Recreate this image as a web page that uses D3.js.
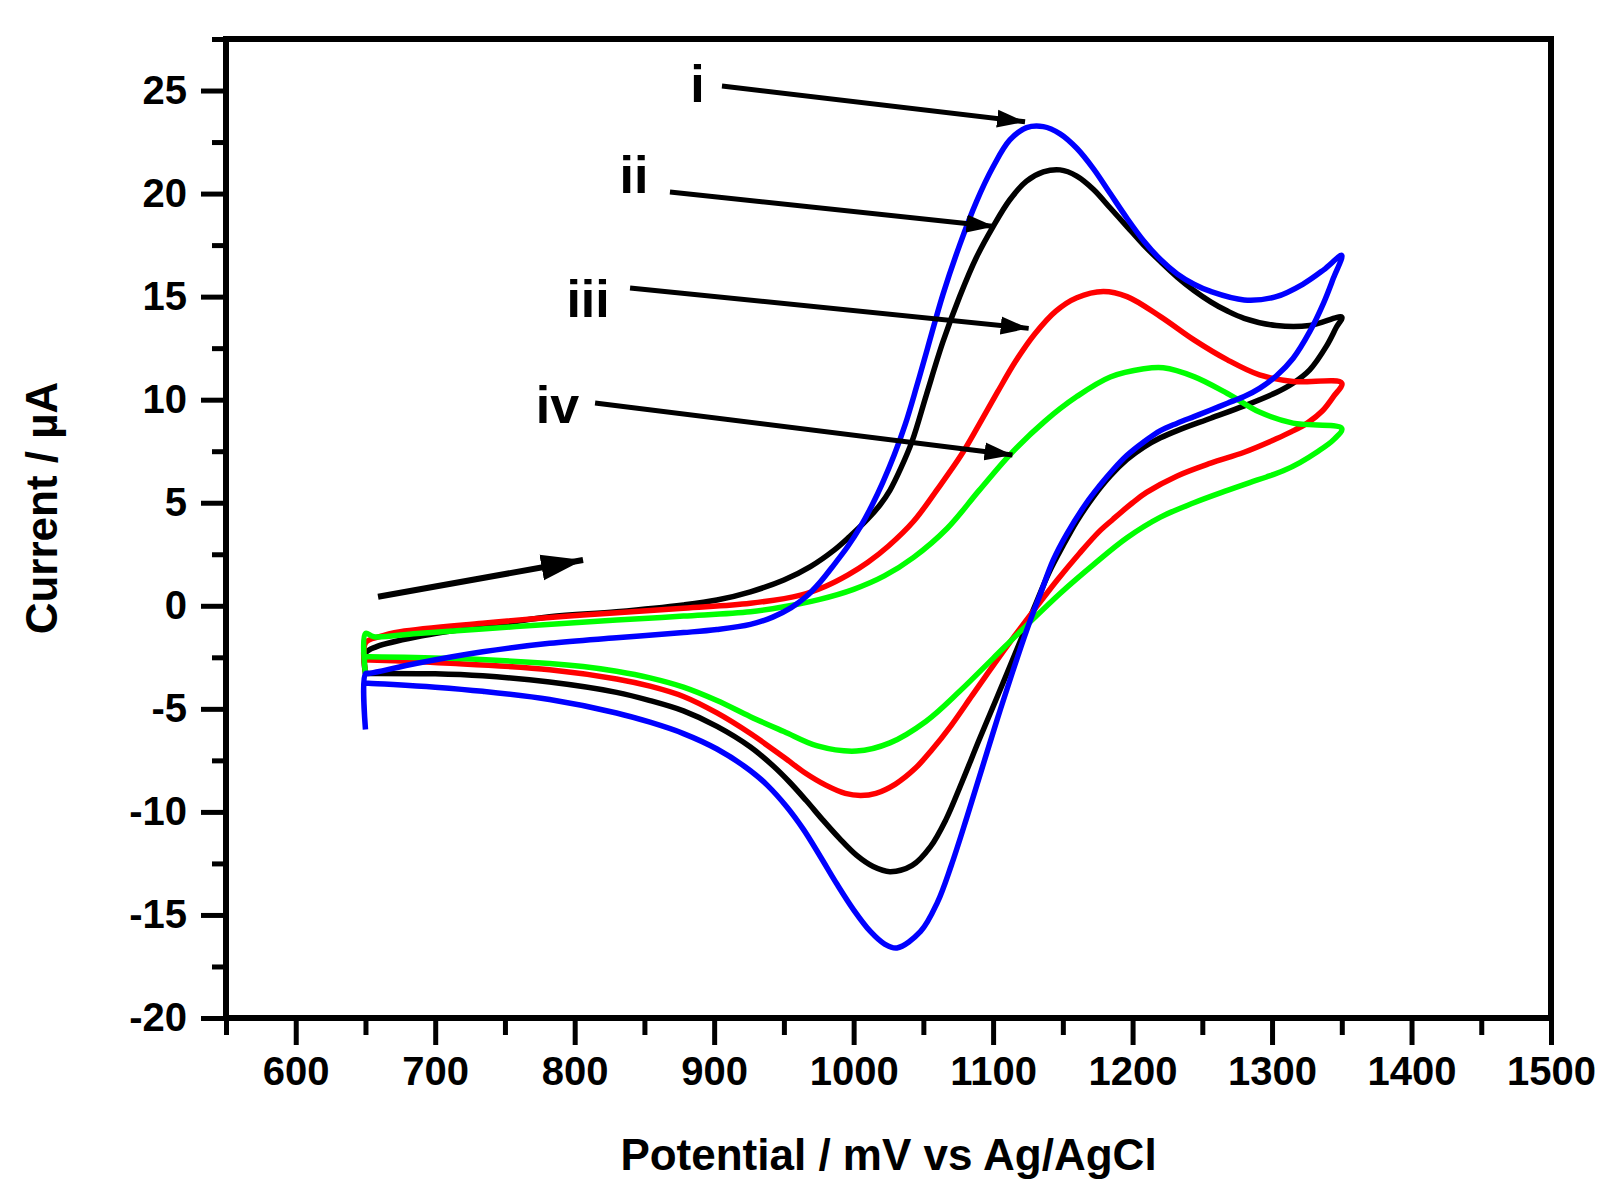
<!DOCTYPE html>
<html>
<head>
<meta charset="utf-8">
<title>Cyclic voltammograms</title>
<script src="https://cdn.jsdelivr.net/npm/d3@7"></script>
<style>
  body { margin: 0; background: #fff; }
  svg text { font-family: "Liberation Sans", Arial, sans-serif; font-weight: bold; fill: #000; }
</style>
</head>
<body>
<div id="chart"></div>
<script>
// potential (mV vs Ag/AgCl), current (uA) -- forward scan then reverse scan
var scanI = [[650,-6.0],[650,-3.3],[653,-3.28],[687,-2.79],[734,-2.23],[782,-1.82],[830,-1.55],[878,-1.3],
  [902,-1.15],[926,-0.9],[942,-0.55],[955,-0.1],[966,0.45],[976,1.15],[986,2.0],[996,2.9],[1005,3.85],
  [1013,4.85],[1021,6.0],[1029,7.3],[1037,8.8],[1045,10.6],[1053,12.5],[1064,15.1],[1076,17.5],
  [1088,19.6],[1100,21.3],[1112,22.6],[1124,23.2],[1136,23.25],[1148,22.9],[1160,22.2],[1172,21.2],
  [1184,20.0],[1196,18.8],[1208,17.7],[1220,16.8],[1232,16.1],[1244,15.6],[1256,15.25],[1280,14.84],
  [1303,15.0],[1322,15.6],[1337,16.3],[1350,17.0],
  [1344,15.9],[1337,14.7],[1327,13.3],[1315,12.0],[1303,11.15],[1291,10.55],[1280,10.15],[1268,9.83],
  [1256,9.5],[1244,9.18],[1232,8.86],[1220,8.5],[1208,7.95],[1196,7.3],[1186,6.6],[1176,5.8],[1167,5.0],
  [1153,3.5],[1143,2.2],[1134,0.6],[1124,-1.2],[1114,-3.2],[1103,-5.5],[1092,-7.9],[1081,-10.3],
  [1070,-12.6],[1060,-14.4],[1048,-15.8],[1031,-16.6],[1022,-16.4],[1012,-15.8],[1000,-14.75],
  [988,-13.5],[976,-12.15],[964,-10.85],[952,-9.75],[938,-8.7],[926,-8.0],[902,-6.95],[878,-6.2],
  [854,-5.65],[830,-5.2],[782,-4.55],[734,-4.15],[700,-3.95],[670,-3.82],[652,-3.76],[650,-3.76]];

var scanII = [[650,-3.3],[650,-2.3],[658,-1.98],[687,-1.5],[734,-1.01],[782,-0.53],[830,-0.29],[878,0.04],
  [902,0.28],[926,0.68],[950,1.25],[969,1.9],[986,2.7],[997,3.35],[1010,4.2],[1019,4.9],[1026,5.6],
  [1034,6.7],[1042,8.0],[1052,10.2],[1064,12.8],[1076,15.0],[1088,16.9],[1100,18.4],[1112,19.7],
  [1124,20.6],[1136,21.05],[1148,21.15],[1160,20.85],[1172,20.2],[1184,19.3],[1196,18.4],[1208,17.5],
  [1220,16.7],[1232,15.95],[1244,15.3],[1256,14.75],[1268,14.3],[1280,13.95],[1303,13.6],[1327,13.6],
  [1350,14.0],
  [1346,13.5],[1339,12.6],[1327,11.45],[1315,10.8],[1303,10.35],[1280,9.7],[1256,9.1],[1232,8.5],
  [1220,8.15],[1208,7.7],[1196,7.1],[1184,6.3],[1172,5.3],[1160,4.1],[1150,2.9],[1140,1.6],[1130,0.0],
  [1119,-1.8],[1102,-4.57],[1090,-6.5],[1078,-8.5],[1066,-10.4],[1055,-11.7],[1042,-12.6],[1026,-12.9],
  [1014,-12.65],[1002,-12.1],[990,-11.3],[978,-10.4],[966,-9.45],[954,-8.55],[942,-7.75],[926,-6.85],
  [902,-5.85],[878,-5.1],[854,-4.6],[830,-4.2],[782,-3.7],[734,-3.4],[700,-3.3],[653,-3.28],[650,-3.28]];

var scanIII = [[650,-3.2],[650,-1.8],[660,-1.5],[675,-1.26],[734,-0.85],[806,-0.45],[878,-0.12],[926,0.12],
  [962,0.52],[980,0.95],[996,1.5],[1010,2.1],[1025,2.9],[1043,4.1],[1060,5.65],[1077,7.3],[1090,8.8],
  [1103,10.35],[1116,11.85],[1130,13.2],[1145,14.3],[1160,14.95],[1179,15.25],[1196,15.0],[1220,14.03],
  [1244,12.9],[1268,11.93],[1291,11.2],[1315,10.88],[1350,10.8],
  [1344,10.15],[1336,9.45],[1326,8.9],[1314,8.45],[1303,8.1],[1280,7.45],[1256,6.92],[1232,6.3],[1210,5.5],
  [1200,5.0],[1186,4.2],[1176,3.6],[1162,2.55],[1146,1.25],[1130,-0.15],[1115,-1.5],[1100,-2.9],
  [1085,-4.35],[1070,-5.8],[1056,-7.0],[1044,-7.9],[1030,-8.65],[1016,-9.1],[1005,-9.2],[994,-9.1],
  [980,-8.7],[965,-8.1],[950,-7.35],[926,-6.2],[902,-5.2],[878,-4.4],[854,-3.9],[830,-3.55],[782,-3.1],
  [711,-2.79],[653,-2.63],[650,-2.63]];

var scanIV = [[650,-3.3],[650,-1.34],[656,-1.5],[687,-1.34],[758,-1.01],[830,-0.69],[878,-0.5],[926,-0.29],
  [950,-0.05],[975,0.3],[1000,0.8],[1022,1.45],[1043,2.35],[1067,3.75],[1090,5.6],[1113,7.4],[1137,8.95],
  [1160,10.15],[1184,11.1],[1208,11.5],[1222,11.55],[1244,11.12],[1268,10.3],[1291,9.4],[1315,8.86],
  [1350,8.6],
  [1344,8.05],[1332,7.45],[1320,6.95],[1308,6.55],[1296,6.25],[1284,5.98],[1268,5.6],[1244,5.0],
  [1220,4.3],[1196,3.3],[1172,2.0],[1148,0.6],[1124,-0.95],[1100,-2.55],[1076,-4.15],[1052,-5.6],
  [1026,-6.65],[1002,-7.05],[974,-6.8],[950,-6.1],[926,-5.38],[902,-4.6],[878,-3.95],[854,-3.5],
  [830,-3.18],[806,-2.95],[782,-2.8],[711,-2.55],[653,-2.47],[650,-2.47]];

// drawing order: black, red, green, blue on top
var seriesNames = ["ii", "iii", "iv", "i"];
var seriesData = [scanII, scanIII, scanIV, scanI];
var seriesColors = ["#000000", "#ff0000", "#00ff00", "#0000ff"];

// curve labels and pointer arrows, in data units
var labelNames = ["i", "ii", "iii", "iv"];
var labelPos = [[888, 24.45], [842.5, 20.03], [809.6, 14.01], [787.7, 8.87]];
var arrowFrom = [[905.6, 25.22], [868.3, 20.08], [839.7, 15.42], [814.6, 9.84]];
var arrowTo = [[1122.9, 23.48], [1101, 18.4], [1125.5, 13.46], [1113.9, 7.32]];
var scanArrow = [[659, 0.44], [806, 2.22]];

var xMajor = d3.range(600, 1501, 100);
var xMinor = d3.range(550, 1501, 50).filter(function(d) { return d % 100 !== 0; });
var yMajor = d3.range(-20, 26, 5);
var yMinor = d3.range(-17.5, 28, 5);

var width = 1624, height = 1197;
var margin = {top: 39, right: 73, bottom: 179, left: 226};

var x = d3.scaleLinear().domain([550, 1500]).range([margin.left, width - margin.right]);
var y = d3.scaleLinear().domain([-20, 27.5]).range([height - margin.bottom, margin.top]);

var svg = d3.select("#chart").append("svg")
    .attr("width", width)
    .attr("height", height)
    .style("background", "#fff");

var defs = svg.append("defs");
defs.append("marker")
    .attr("id", "head")
    .attr("markerUnits", "userSpaceOnUse")
    .attr("viewBox", "0 -10 28 20")
    .attr("refX", 28).attr("refY", 0)
    .attr("markerWidth", 28).attr("markerHeight", 20)
    .attr("orient", "auto")
  .append("path")
    .attr("d", "M0,-9L28,0L0,9Z")
    .attr("fill", "#000");
defs.append("marker")
    .attr("id", "bighead")
    .attr("markerUnits", "userSpaceOnUse")
    .attr("viewBox", "0 -14 42 28")
    .attr("refX", 42).attr("refY", 0)
    .attr("markerWidth", 42).attr("markerHeight", 28)
    .attr("orient", "auto")
  .append("path")
    .attr("d", "M0,-13L42,0L0,13Z")
    .attr("fill", "#000");

// curves
var line = d3.line()
    .x(function(d) { return x(d[0]); })
    .y(function(d) { return y(d[1]); })
    .curve(d3.curveCatmullRom.alpha(0.5));

svg.append("g").selectAll("path")
    .data(seriesData)
  .enter().append("path")
    .attr("d", line)
    .attr("fill", "none")
    .attr("stroke", function(d, i) { return seriesColors[i]; })
    .attr("stroke-width", 5.5)
    .attr("stroke-linejoin", "round");

// axes
var xAxis = svg.append("g")
    .attr("transform", "translate(0," + y.range()[0] + ")");
xAxis.append("g").attr("class", "major")
    .call(d3.axisBottom(x).tickValues(xMajor).tickSize(27).tickPadding(12)
      .tickFormat(function(d) { return String(d); }));
xAxis.append("g").attr("class", "minor")
    .call(d3.axisBottom(x).tickValues(xMinor).tickSize(17).tickFormat(""));

var yAxis = svg.append("g")
    .attr("transform", "translate(" + x.range()[0] + ",0)");
yAxis.append("g").attr("class", "major")
    .call(d3.axisLeft(y).tickValues(yMajor).tickSize(25).tickPadding(14)
      .tickFormat(function(d) { return String(d); }));
yAxis.append("g").attr("class", "minor")
    .call(d3.axisLeft(y).tickValues(yMinor).tickSize(14).tickFormat(""));

svg.selectAll(".domain").remove();
svg.selectAll(".tick line").attr("stroke", "#000").attr("stroke-width", 5);
svg.selectAll(".tick text").style("font-size", "40px").attr("fill", "#000");

svg.append("rect")
    .attr("x", x.range()[0])
    .attr("y", y.range()[1])
    .attr("width", x.range()[1] - x.range()[0])
    .attr("height", y.range()[0] - y.range()[1])
    .attr("fill", "none")
    .attr("stroke", "#000")
    .attr("stroke-width", 6);

// axis titles
svg.append("text")
    .attr("x", (x.range()[0] + x.range()[1]) / 2)
    .attr("y", 1170)
    .attr("text-anchor", "middle")
    .style("font-size", "44px")
    .text("Potential / mV vs Ag/AgCl");

svg.append("text")
    .attr("transform", "translate(57," + 508 + ") rotate(-90)")
    .attr("text-anchor", "middle")
    .style("font-size", "44px")
    .text("Current / \u00b5A");

// pointer arrows and labels
var notes = svg.append("g");
arrowFrom.forEach(function(a, i) {
  notes.append("line")
      .attr("x1", x(a[0])).attr("y1", y(a[1]))
      .attr("x2", x(arrowTo[i][0])).attr("y2", y(arrowTo[i][1]))
      .attr("stroke", "#000")
      .attr("stroke-width", 5)
      .attr("marker-end", "url(#head)");
  notes.append("text")
      .attr("x", x(labelPos[i][0]))
      .attr("y", y(labelPos[i][1]))
      .attr("text-anchor", "middle")
      .style("font-size", "52px")
      .text(labelNames[i]);
});

notes.append("line")
    .attr("x1", x(scanArrow[0][0])).attr("y1", y(scanArrow[0][1]))
    .attr("x2", x(scanArrow[1][0])).attr("y2", y(scanArrow[1][1]))
    .attr("stroke", "#000")
    .attr("stroke-width", 6)
    .attr("marker-end", "url(#bighead)");
</script>
</body>
</html>
